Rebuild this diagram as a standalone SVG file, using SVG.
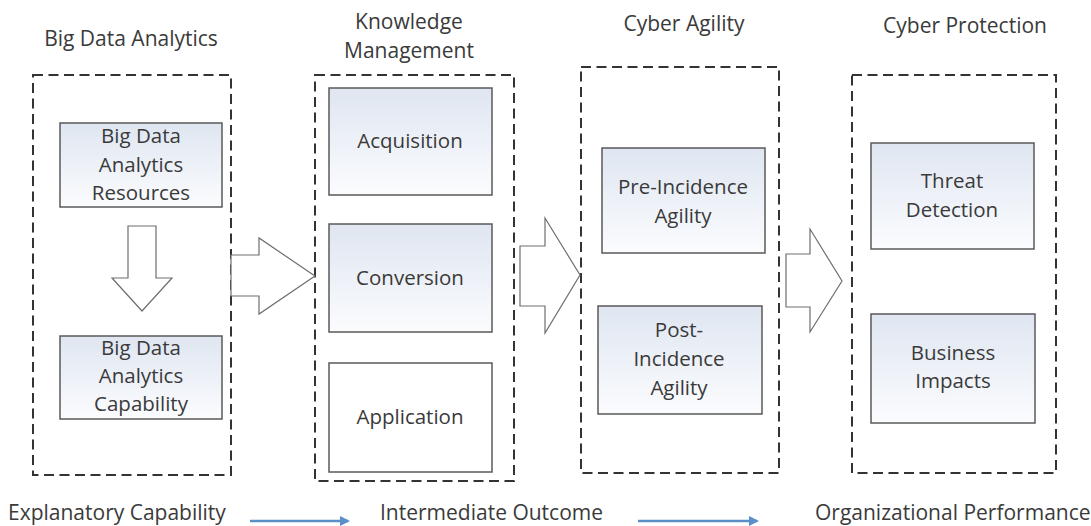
<svg xmlns="http://www.w3.org/2000/svg" width="1091" height="526" viewBox="0 0 1091 526">
  <style>
    text { font-family: "Open Sans", "Liberation Sans", sans-serif; fill: #3a3a3a; text-anchor: middle; }
    .title { font-size: 21px; }
    .label { font-size: 20.5px; }
    .bottom { font-size: 21px; text-anchor: start; }
    .group { fill: none; stroke: #333; stroke-width: 2; stroke-dasharray: 10 5.5; }
    .box { fill: url(#grad); stroke: #5a5a5a; stroke-width: 1.5; }
    .box-plain { fill: #fff; stroke: #5a5a5a; stroke-width: 1.5; }
    .bigarrow { fill: #fff; stroke: #6e6e6e; stroke-width: 1.2; stroke-linejoin: miter; }
    .flow { stroke: #5b8fc7; stroke-width: 2.5; fill: none; }
  </style>
  <defs>
    <linearGradient id="grad" x1="0" y1="0" x2="0" y2="1">
      <stop offset="0" stop-color="#dfe6f1"/>
      <stop offset="1" stop-color="#fbfcfe"/>
    </linearGradient>
    <marker id="blueHead" viewBox="0 0 10 10" refX="8" refY="5" markerWidth="4" markerHeight="4" orient="auto" markerUnits="strokeWidth">
      <path d="M0,0 L10,5 L0,10 Z" fill="#5b8fc7"/>
    </marker>
  </defs>
  <rect width="1091" height="526" fill="#fff"/>

  <!-- Group titles -->
  <g id="titles">
    <text class="title" x="131" y="46">Big Data Analytics</text>
    <text class="title" x="409" y="29">Knowledge</text>
    <text class="title" x="409" y="58">Management</text>
    <text class="title" x="684" y="31">Cyber Agility</text>
    <text class="title" x="965" y="33">Cyber Protection</text>
  </g>

  <!-- Dashed containers -->
  <g id="group-bda"><rect class="group" x="33" y="75" width="198" height="400"/></g>
  <g id="group-km"><rect class="group" x="315" y="75" width="199" height="406"/></g>
  <g id="group-ca"><rect class="group" x="581" y="67" width="198" height="406"/></g>
  <g id="group-cp"><rect class="group" x="852" y="75" width="204" height="398"/></g>

  <!-- Connectors -->
  <g id="connectors">
    <polygon class="bigarrow" points="128,226 156,226 156,278 172,278 142,311 112,278 128,278"/>
    <polygon class="bigarrow" points="231,255 259,255 259,238 315,276 259,314 259,296 231,296"/>
    <polygon class="bigarrow" points="520,246 545,246 545,218 580,275 545,333 545,306 520,306"/>
    <polygon class="bigarrow" points="786,254 810,254 810,229 842,281 810,332 810,307 786,307"/>
    <line class="flow" x1="250" y1="521" x2="348" y2="521" marker-end="url(#blueHead)"/>
    <line class="flow" x1="638" y1="521" x2="757" y2="521" marker-end="url(#blueHead)"/>
  </g>

  <!-- Nodes -->
  <g id="bda-resources">
    <rect class="box" x="60" y="123" width="162" height="84"/>
    <text class="label" x="141" y="143">Big Data</text>
    <text class="label" x="141" y="172">Analytics</text>
    <text class="label" x="141" y="200">Resources</text>
  </g>
  <g id="bda-capability">
    <rect class="box" x="60" y="336" width="162" height="83"/>
    <text class="label" x="141" y="355">Big Data</text>
    <text class="label" x="141" y="383">Analytics</text>
    <text class="label" x="141" y="411">Capability</text>
  </g>
  <g id="km-acquisition">
    <rect class="box" x="329" y="88" width="163" height="107"/>
    <text class="label" x="410" y="148">Acquisition</text>
  </g>
  <g id="km-conversion">
    <rect class="box" x="329" y="224" width="163" height="108"/>
    <text class="label" x="410" y="285">Conversion</text>
  </g>
  <g id="km-application">
    <rect class="box-plain" x="329" y="363" width="163" height="109"/>
    <text class="label" x="410" y="424">Application</text>
  </g>
  <g id="ca-pre">
    <rect class="box" x="602" y="148" width="163" height="105"/>
    <text class="label" x="683" y="194">Pre-Incidence</text>
    <text class="label" x="683" y="223">Agility</text>
  </g>
  <g id="ca-post">
    <rect class="box" x="598" y="306" width="164" height="108"/>
    <text class="label" x="679" y="337">Post-</text>
    <text class="label" x="679" y="366">Incidence</text>
    <text class="label" x="679" y="395">Agility</text>
  </g>
  <g id="cp-threat">
    <rect class="box" x="871" y="143" width="163" height="106"/>
    <text class="label" x="952" y="188">Threat</text>
    <text class="label" x="952" y="217">Detection</text>
  </g>
  <g id="cp-business">
    <rect class="box" x="871" y="314" width="164" height="109"/>
    <text class="label" x="953" y="360">Business</text>
    <text class="label" x="953" y="388">Impacts</text>
  </g>

  <!-- Bottom labels -->
  <g id="bottom-labels">
    <text class="bottom" x="8" y="520">Explanatory Capability</text>
    <text class="bottom" x="380" y="520">Intermediate Outcome</text>
    <text class="bottom" x="815" y="520">Organizational Performance</text>
  </g>
</svg>
